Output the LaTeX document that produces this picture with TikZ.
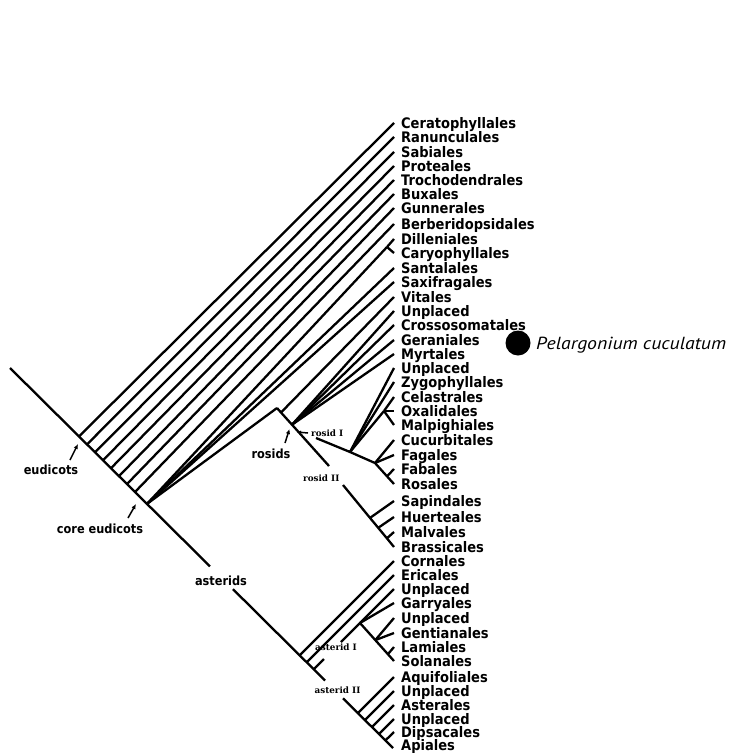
\documentclass[tikz,border=0pt]{standalone}
\usepackage{fontspec}
\newfontfamily\labfont{DejaVu Sans}[FakeStretch=0.9]
\newfontfamily\smallfont{DejaVu Serif}
\newfontfamily\pelfont{PT Sans}[FakeStretch=1.13]
\usetikzlibrary{arrows.meta}
\tikzset{
  leaf/.style={anchor=base west, inner sep=0pt, font=\labfont\bfseries\fontsize{14.5bp}{16bp}\selectfont},
  clade/.style={anchor=base, inner sep=0pt, font=\labfont\bfseries\fontsize{12.6bp}{14bp}\selectfont},
  sub/.style={anchor=base, inner sep=0pt, font=\smallfont\bfseries\fontsize{8.8bp}{10bp}\selectfont},
  arr/.style={-{Latex[length=5bp,width=4.5bp]}, line width=1.5bp}
}
\begin{document}
\begin{tikzpicture}[x=1bp,y=-1bp,line width=2.3bp,line join=round]
\useasboundingbox (0,0) rectangle (733,753);
% tips and leaf labels
\foreach \n/\yy/\t in {0/123/Ceratophyllales,1/137/Ranunculales,2/152/Sabiales,3/166/Proteales,
  4/180/Trochodendrales,5/194/Buxales,6/208/Gunnerales,7/224/Berberidopsidales,8/239/Dilleniales,
  9/253/Caryophyllales,10/268/Santalales,11/282/Saxifragales,12/297/Vitales,13/311/Unplaced,
  14/325/Crossosomatales,15/340/Geraniales,16/354/Myrtales,17/368/Unplaced,18/382/Zygophyllales,
  19/397/Celastrales,20/411/Oxalidales,21/425/Malpighiales,22/440/Cucurbitales,23/455/Fagales,
  24/469/Fabales,25/484/Rosales,26/501/Sapindales,27/517/Huerteales,28/532/Malvales,
  29/547/Brassicales,30/561/Cornales,31/575/Ericales,32/589/Unplaced,33/603/Garryales,
  34/618/Unplaced,35/633/Gentianales,36/647/Lamiales,37/661/Solanales,38/677/Aquifoliales,
  39/691/Unplaced,40/705/Asterales,41/719/Unplaced,42/732/Dipsacales,43/745/Apiales}{
  \coordinate (t\n) at (394,\yy);
  \node[leaf] (l\n) at (400,{\yy+5}) {\t};
}
% main backbone
\coordinate (root) at (10,368);
\coordinate (b0) at (79,436.45);
\coordinate (b1) at (87,444.38);
\coordinate (b2) at (95,452.32);
\coordinate (b3) at (103,460.26);
\coordinate (b4) at (111,468.19);
\coordinate (b5) at (119,476.13);
\coordinate (b6) at (127,484.06);
\coordinate (b7) at (135,492.0);
\coordinate (C) at (147,503.9);
\coordinate (gA1) at (210,566.4);
\coordinate (gA2) at (233,589.2);
\coordinate (bCo) at (299.7,655.4);
\coordinate (bEr) at (306.7,662.3);
\coordinate (bA1) at (313.7,669.3);
\coordinate (gB1) at (325,680.5);
\coordinate (gB2) at (343,698.3);
\coordinate (bAq) at (357.9,713.1);
\coordinate (bU1) at (364.9,720.1);
\coordinate (bAs) at (371.9,727.0);
\coordinate (bU2) at (378.9,734.0);
\coordinate (bDi) at (385.4,740.4);
\coordinate (bEnd) at (393,748);
\draw (root) -- (b0) -- (b1) -- (b2) -- (b3) -- (b4) -- (b5) -- (b6) -- (b7) -- (C) -- (gA1);
\draw (gA2) -- (bCo) -- (bEr) -- (bA1) -- (gB1);
\draw (gB2) -- (bAq) -- (bU1) -- (bAs) -- (bU2) -- (bDi) -- (bEnd);
% eudicot grade
\foreach \i in {0,...,7} \draw (b\i) -- (t\i);
% core eudicots
\coordinate (D) at (387,247);
\coordinate (RT) at (277,408);
\draw (C) -- (D); \draw (D) -- (t8); \draw (D) -- (t9);
\draw (C) -- (t10); \draw (C) -- (t11); \draw (C) -- (RT);
% rosids
\coordinate (V) at (281,412.5);
\coordinate (R) at (292,424.7);
\coordinate (RB1) at (329,466);
\coordinate (RB2) at (343,485);
\draw (RT) -- (V) -- (R) -- (RB1);
\draw (V) -- (t12);
\foreach \i in {13,...,16} \draw (R) -- (t\i);
% rosid I
\coordinate (RI) at (316,438);
\coordinate (N1) at (350,452);
\coordinate (N2) at (375,463);
\coordinate (FR) at (387,476.3);
\coordinate (F1) at (384,411);
\draw (RI) -- (N1) -- (N2) -- (FR) -- (t25);
\draw (N1) -- (t17); \draw (N1) -- (t18); \draw (N1) -- (F1);
\draw (F1) -- (t19); \draw (F1) -- (t20); \draw (F1) -- (t21);
\draw (N2) -- (t22); \draw (N2) -- (t23); \draw (FR) -- (t24);
% rosid II
\coordinate (S1) at (370,517.9);
\coordinate (S2) at (378.2,527.8);
\coordinate (S3) at (386.9,538.3);
\draw (RB2) -- (S1) -- (S2) -- (S3) -- (t29);
\draw (S1) -- (t26); \draw (S2) -- (t27); \draw (S3) -- (t28);
% asterids
\coordinate (gI1) at (324,659);
\coordinate (gI2) at (341,642);
\coordinate (A1) at (360,623);
\coordinate (A2) at (375.3,640.1);
\coordinate (LF) at (387.9,654.2);
\draw (bCo) -- (t30); \draw (bEr) -- (t31);
\draw (bA1) -- (gI1); \draw (gI2) -- (A1) -- (t32);
\draw (A1) -- (t33);
\draw (A1) -- (A2) -- (LF) -- (t37);
\draw (A2) -- (t34); \draw (A2) -- (t35); \draw (LF) -- (t36);
\draw (bAq) -- (t38); \draw (bU1) -- (t39); \draw (bAs) -- (t40); \draw (bU2) -- (t41); \draw (bDi) -- (t42);
% clade labels
\node[clade] (eud) at (51,474) {eudicots};
\node[clade] (core) at (100,533) {core eudicots};
\node[clade] (ast) at (221,585) {asterids};
\node[clade] (ros) at (271,458) {rosids};
\node[sub, anchor=base west] (rI) at (310,436) {rosid I};
\node[sub, anchor=base west] (rII) at (302,481) {rosid II};
\node[sub] (aI) at (336,650) {asterid I};
\node[sub] (aII) at (337.5,693) {asterid II};
% arrows
\coordinate (eudT) at (70,460); \coordinate (eudH) at (78,444);
\coordinate (coreT) at (128,518); \coordinate (coreH) at (136,504);
\coordinate (rosT) at (285,443); \coordinate (rosH) at (289.5,429);
\coordinate (rIT) at (308,433); \coordinate (rIH) at (297,432);
\draw[arr] (eudT) -- (eudH);
\draw[arr] (coreT) -- (coreH);
\draw[arr] (rosT) -- (rosH);
\draw[arr, -{Latex[length=4bp,width=4bp]}] (rIT) -- (rIH);
% Pelargonium marker
\node[circle, fill=black, minimum size=25bp, inner sep=0pt] (dot) at (518,343) {};
\node[anchor=base west, inner sep=0pt, font=\pelfont\itshape\fontsize{17.5bp}{20bp}\selectfont] (pel) at (535,349) {Pelargonium cuculatum};
\end{tikzpicture}
\end{document}
